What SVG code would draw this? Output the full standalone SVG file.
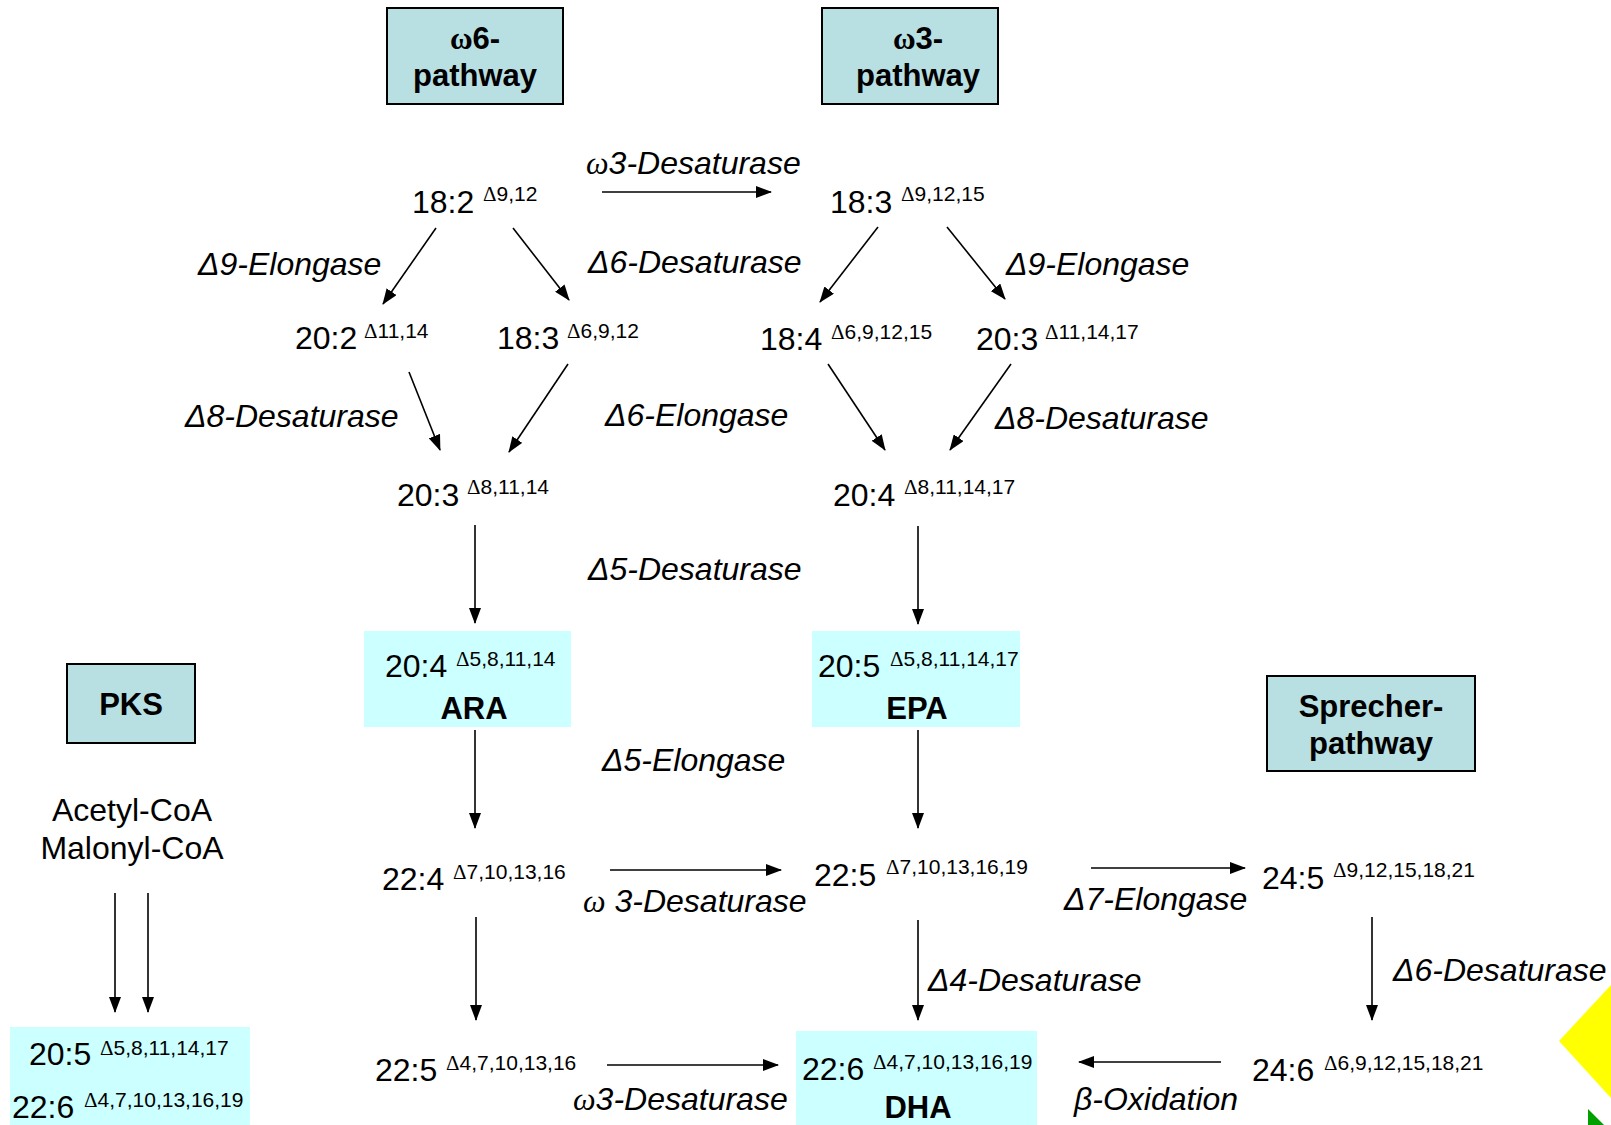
<svg xmlns="http://www.w3.org/2000/svg" width="1611" height="1125" viewBox="0 0 1611 1125">
<style>
.num{font-family:"Liberation Sans",Arial,sans-serif;font-size:32px;fill:#000}
.sup{font-family:"Liberation Sans",Arial,sans-serif;font-size:21px;fill:#000}
.d{font-family:"Liberation Serif","Times New Roman",serif}
.lab{font-family:"Liberation Sans",Arial,sans-serif;font-size:32px;font-style:italic;fill:#000}
.om{font-family:"Liberation Serif","Times New Roman",serif;font-style:italic}
.bold{font-family:"Liberation Sans",Arial,sans-serif;font-size:31px;font-weight:bold;fill:#000;text-anchor:middle}
.bs{font-family:"Liberation Serif","Times New Roman",serif}
.bx{fill:#b8dfe2;stroke:#000;stroke-width:2}
.hl{fill:#ccffff}
.c{stroke:#000;stroke-width:1.6;fill:none;marker-end:url(#ah)}
</style>
<defs>
<marker id="ah" markerUnits="userSpaceOnUse" markerWidth="16" markerHeight="12" refX="15" refY="6" orient="auto">
<path d="M0,0 L16,6 L0,12 Z" fill="#000"/>
</marker>
</defs>
<rect width="1611" height="1125" fill="#fff"/>

<g id="w6-pathway"><rect class="bx" x="387" y="8" width="176" height="96"/><text class="bold" x="475" y="49"><tspan class="bs">ω</tspan>6-</text><text class="bold" x="475" y="86">pathway</text></g>
<g id="w3-pathway"><rect class="bx" x="822" y="8" width="176" height="96"/><text class="bold" x="918" y="49"><tspan class="bs">ω</tspan>3-</text><text class="bold" x="918" y="86">pathway</text></g>
<g id="pks"><rect class="bx" x="67" y="664" width="128" height="79"/><text class="bold" x="131" y="715">PKS</text></g>
<g id="sprecher"><rect class="bx" x="1267" y="676" width="208" height="95"/><text class="bold" x="1371" y="717">Sprecher-</text><text class="bold" x="1371" y="754">pathway</text></g>

<g id="n18-2"><text class="num" x="412" y="213">18:2</text><text class="sup" x="483" y="201"><tspan class="d">Δ</tspan>9,12</text></g>
<g id="n18-3w3"><text class="num" x="830" y="213">18:3</text><text class="sup" x="901" y="201"><tspan class="d">Δ</tspan>9,12,15</text></g>
<g id="n20-2"><text class="num" x="295" y="349">20:2</text><text class="sup" x="364" y="338"><tspan class="d">Δ</tspan>11,14</text></g>
<g id="n18-3w6"><text class="num" x="497" y="349">18:3</text><text class="sup" x="567" y="338"><tspan class="d">Δ</tspan>6,9,12</text></g>
<g id="n18-4"><text class="num" x="760" y="350">18:4</text><text class="sup" x="831" y="339"><tspan class="d">Δ</tspan>6,9,12,15</text></g>
<g id="n20-3w3"><text class="num" x="976" y="350">20:3</text><text class="sup" x="1045" y="339"><tspan class="d">Δ</tspan>11,14,17</text></g>
<g id="n20-3w6"><text class="num" x="397" y="506">20:3</text><text class="sup" x="467" y="494"><tspan class="d">Δ</tspan>8,11,14</text></g>
<g id="n20-4w3"><text class="num" x="833" y="506">20:4</text><text class="sup" x="904" y="494"><tspan class="d">Δ</tspan>8,11,14,17</text></g>

<g id="ara"><rect class="hl" x="364" y="631" width="207" height="96"/><text class="num" x="385" y="677">20:4</text><text class="sup" x="456" y="666"><tspan class="d">Δ</tspan>5,8,11,14</text><text class="bold" x="474" y="719">ARA</text></g>
<g id="epa"><rect class="hl" x="812" y="631" width="208" height="96"/><text class="num" x="818" y="677">20:5</text><text class="sup" x="890" y="666"><tspan class="d">Δ</tspan>5,8,11,14,17</text><text class="bold" x="917" y="719">EPA</text></g>

<g id="acetyl"><text class="num" x="132" y="821" text-anchor="middle">Acetyl-CoA</text><text class="num" x="132" y="859" text-anchor="middle">Malonyl-CoA</text></g>

<g id="n22-4"><text class="num" x="382" y="890">22:4</text><text class="sup" x="453" y="879"><tspan class="d">Δ</tspan>7,10,13,16</text></g>
<g id="n22-5a"><text class="num" x="814" y="886">22:5</text><text class="sup" x="886" y="874"><tspan class="d">Δ</tspan>7,10,13,16,19</text></g>
<g id="n24-5"><text class="num" x="1262" y="889">24:5</text><text class="sup" x="1333" y="877"><tspan class="d">Δ</tspan>9,12,15,18,21</text></g>

<g id="pks-out"><rect class="hl" x="10" y="1027" width="240" height="98"/><text class="num" x="29" y="1065">20:5</text><text class="sup" x="100" y="1055"><tspan class="d">Δ</tspan>5,8,11,14,17</text><text class="num" x="12" y="1118">22:6</text><text class="sup" x="84" y="1107"><tspan class="d">Δ</tspan>4,7,10,13,16,19</text></g>
<g id="n22-5b"><text class="num" x="375" y="1081">22:5</text><text class="sup" x="446" y="1070"><tspan class="d">Δ</tspan>4,7,10,13,16</text></g>
<g id="dha"><rect class="hl" x="796" y="1031" width="241" height="94"/><text class="num" x="802" y="1080">22:6</text><text class="sup" x="873" y="1069"><tspan class="d">Δ</tspan>4,7,10,13,16,19</text><text class="bold" x="918" y="1118">DHA</text></g>
<g id="n24-6"><text class="num" x="1252" y="1081">24:6</text><text class="sup" x="1324" y="1070"><tspan class="d">Δ</tspan>6,9,12,15,18,21</text></g>

<g id="connectors">
<line class="c" x1="602" y1="192" x2="771" y2="192"/>
<line class="c" x1="436" y1="228" x2="383" y2="304"/>
<line class="c" x1="513" y1="228" x2="569" y2="300"/>
<line class="c" x1="878" y1="227" x2="820" y2="302"/>
<line class="c" x1="947" y1="227" x2="1005" y2="299"/>
<line class="c" x1="409" y1="372" x2="440" y2="450"/>
<line class="c" x1="568" y1="364" x2="509" y2="452"/>
<line class="c" x1="828" y1="364" x2="885" y2="450"/>
<line class="c" x1="1011" y1="364" x2="950" y2="450"/>
<line class="c" x1="475" y1="525" x2="475" y2="623"/>
<line class="c" x1="918" y1="526" x2="918" y2="624"/>
<line class="c" x1="475" y1="730" x2="475" y2="828"/>
<line class="c" x1="918" y1="730" x2="918" y2="828"/>
<line class="c" x1="610" y1="870" x2="781" y2="870"/>
<line class="c" x1="1091" y1="868" x2="1245" y2="868"/>
<line class="c" x1="115" y1="893" x2="115" y2="1012"/>
<line class="c" x1="148" y1="893" x2="148" y2="1012"/>
<line class="c" x1="476" y1="917" x2="476" y2="1020"/>
<line class="c" x1="918" y1="920" x2="918" y2="1020"/>
<line class="c" x1="1372" y1="917" x2="1372" y2="1020"/>
<line class="c" x1="607" y1="1065" x2="778" y2="1065"/>
<line class="c" x1="1221" y1="1062" x2="1079" y2="1062"/>
<text class="lab" x="586" y="174"><tspan class="om">ω</tspan>3-Desaturase</text>
<text class="lab" x="198" y="275">Δ9-Elongase</text>
<text class="lab" x="588" y="273">Δ6-Desaturase</text>
<text class="lab" x="1006" y="275">Δ9-Elongase</text>
<text class="lab" x="185" y="427">Δ8-Desaturase</text>
<text class="lab" x="605" y="426">Δ6-Elongase</text>
<text class="lab" x="995" y="429">Δ8-Desaturase</text>
<text class="lab" x="588" y="580">Δ5-Desaturase</text>
<text class="lab" x="602" y="771">Δ5-Elongase</text>
<text class="lab" x="583" y="912"><tspan class="om">ω</tspan> 3-Desaturase</text>
<text class="lab" x="1064" y="910">Δ7-Elongase</text>
<text class="lab" x="928" y="991">Δ4-Desaturase</text>
<text class="lab" x="1393" y="981">Δ6-Desaturase</text>
<text class="lab" x="573" y="1110"><tspan class="om">ω</tspan>3-Desaturase</text>
<text class="lab" x="1074" y="1110">β-Oxidation</text>
</g>

<polygon points="1611,985 1559,1041 1611,1098" fill="#ffff00"/>
<polygon points="1588,1109 1588,1125 1604,1125" fill="#00a000"/>
</svg>
